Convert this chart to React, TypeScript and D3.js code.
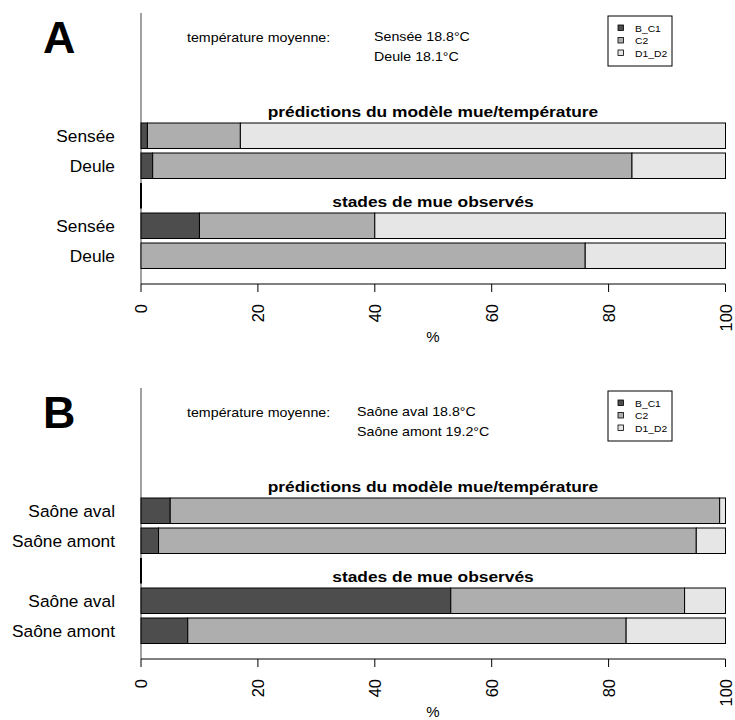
import React from "react";
import * as d3 from "d3";

const stages = ["B_C1", "C2", "D1_D2"];
const stageColors = ["#4D4D4D", "#AEAEAE", "#E6E6E6"];
const ticks = [0, 20, 40, 60, 80, 100];

const panelLetters = ["A", "B"];
const sectionTitles = ["prédictions du modèle mue/température", "stades de mue observés"];
const tempLabel = "température moyenne:";

const sitesA = ["Sensée", "Deule"];
const tempsA = ["Sensée 18.8°C", "Deule 18.1°C"];
const predA = [
  [1.1, 15.9, 83.0],
  [2.0, 82.0, 16.0],
];
const obsA = [
  [10.0, 30.0, 60.0],
  [0.0, 76.0, 24.0],
];

const sitesB = ["Saône aval", "Saône amont"];
const tempsB = ["Saône aval 18.8°C", "Saône amont 19.2°C"];
const predB = [
  [5.0, 94.0, 1.0],
  [3.0, 92.0, 5.0],
];
const obsB = [
  [53.0, 40.0, 7.0],
  [8.0, 75.0, 17.0],
];

const FONT = "'Liberation Sans', Arial, Helvetica, sans-serif";

function T({ x, y, size, sx = 1, anchor = "start", bold = false, rotate = 0, children }: any) {
  return (
    <g transform={`translate(${x},${y}) scale(${sx},1) rotate(${rotate})`}>
      <text
        fontFamily={FONT}
        fontSize={size}
        fontWeight={bold ? "bold" : "normal"}
        textAnchor={anchor}
        fill="#000"
      >
        {children}
      </text>
    </g>
  );
}

const x = d3.scaleLinear().domain([0, 100]).range([141, 725.5]);
const slot = d3.scaleLinear().domain([0, 4]).range([123, 243]);
const barH = 25.5;

function Panel({ top, letter, sites, temps, pred, obs, tempX }: any) {
  const rows = [
    { site: sites[0], vals: pred[0], i: 0 },
    { site: sites[1], vals: pred[1], i: 1 },
    { site: sites[0], vals: obs[0], i: 3 },
    { site: sites[1], vals: obs[1], i: 4 },
  ];
  const axisY = 284;
  return (
    <g transform={`translate(0,${top})`}>
      <T x={43} y={53} size={44} bold sx={1.02}>{letter}</T>
      <line x1={x(0)} x2={x(0)} y1={13} y2={axisY} stroke="#444" strokeWidth={1} />
      <T x={187} y={42} size={12.6} sx={1.13}>{tempLabel}</T>
      <T x={tempX} y={40.5} size={12.6} sx={1.13}>{temps[0]}</T>
      <T x={tempX} y={61} size={12.6} sx={1.13}>{temps[1]}</T>
      {/* legend */}
      <rect x={608} y={16} width={64} height={50} fill="#fff" stroke="#000" strokeWidth={1} />
      {stages.map((s, k) => (
        <g key={s}>
          <rect x={618} y={25 + k * 12.5} width={5.5} height={5.5} fill={stageColors[k]} stroke="#000" strokeWidth={0.8} />
          <T x={635} y={31.5 + k * 12.5} size={9} sx={1.15}>{s}</T>
        </g>
      ))}
      <T x={433} y={117} size={15.5} sx={1.12} anchor="middle" bold>{sectionTitles[0]}</T>
      <T x={433} y={207} size={15.5} sx={1.12} anchor="middle" bold>{sectionTitles[1]}</T>
      {rows.map((r) => {
        let acc = 0;
        const y0 = slot(r.i);
        return (
          <g key={r.i}>
            {r.vals.map((v: number, k: number) => {
              const a = acc;
              acc += v;
              if (v <= 0) return null;
              return (
                <rect
                  key={k}
                  x={x(a)}
                  y={y0}
                  width={x(acc) - x(a)}
                  height={barH}
                  fill={stageColors[k]}
                  stroke="#000"
                  strokeWidth={1}
                />
              );
            })}
            <T x={115} y={y0 + barH / 2 + 6} size={16.5} sx={1.05} anchor="end">{r.site}</T>
          </g>
        );
      })}
      <line x1={x(0)} x2={x(0)} y1={slot(2)} y2={slot(2) + barH} stroke="#000" strokeWidth={2} />
      {/* x axis */}
      <line x1={x(0)} x2={x(100)} y1={axisY} y2={axisY} stroke="#000" strokeWidth={1} />
      {ticks.map((t) => (
        <g key={t}>
          <line x1={x(t)} x2={x(t)} y1={axisY} y2={axisY + 8} stroke="#000" strokeWidth={1} />
          <T x={x(t) + 6} y={axisY + 20} size={16.5} anchor="end" rotate={-90}>{t}</T>
        </g>
      ))}
      <T x={433} y={342} size={15} anchor="middle">%</T>
    </g>
  );
}

export default function App() {
  return (
    <svg width={735} height={720} style={{ position: "absolute", left: 0, top: 0, background: "#fff" }}>
      <rect x={0} y={0} width={735} height={720} fill="#fff" />
      <Panel top={0} letter={panelLetters[0]} sites={sitesA} temps={tempsA} pred={predA} obs={obsA} tempX={374} />
      <Panel top={375} letter={panelLetters[1]} sites={sitesB} temps={tempsB} pred={predB} obs={obsB} tempX={357} />
    </svg>
  );
}
